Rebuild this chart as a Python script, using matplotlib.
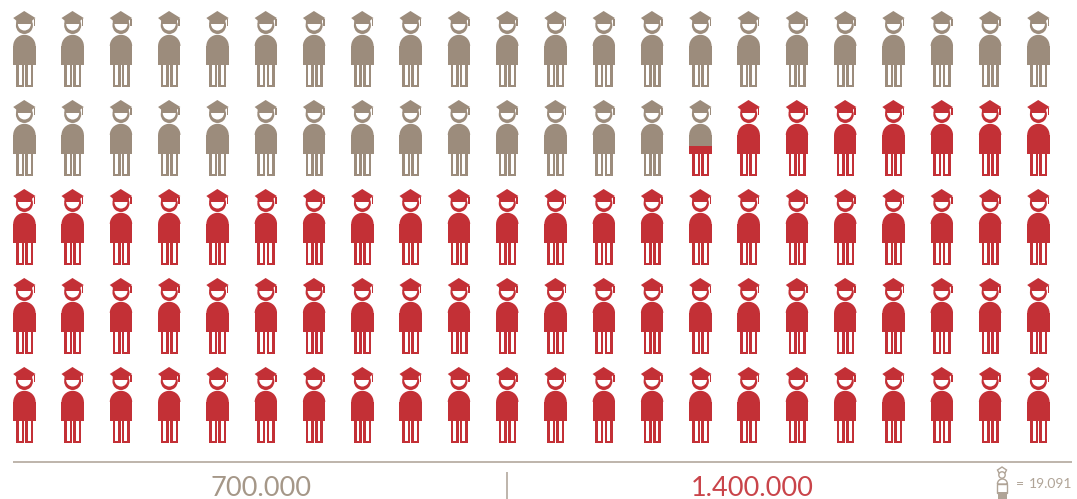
import matplotlib
matplotlib.use("Agg")
import numpy as np
import matplotlib.pyplot as plt
from matplotlib.patches import Circle, Polygon, Rectangle, Wedge
from matplotlib.transforms import Affine2D

# values
group_labels = ["700.000", "1.400.000"]
unit_label = "19.091"
n_rows = 5
n_cols = 22
# icons filled with the first colour, the last one only partly (about 0.6 of its height)
grey_icons = 36.6

GREY = "#9c8c7c"
RED = "#c33036"
LINE = "#b3a89d"
SOFT = "#b0a497"

plt.rcParams["font.family"] = ["Lato", "DejaVu Sans"]

fig = plt.figure(figsize=(10.77, 4.99), dpi=100)
ax = fig.add_axes([0, 0, 1, 1])
ax.set_xlim(0, 1077)
ax.set_ylim(499, 0)
ax.set_axis_off()


def add_parts(ax, parts, tr, clip=None):
    for p in parts:
        p.set_transform(tr)
        ax.add_patch(p)
        if clip is not None:
            p.set_clip_path(clip)
        else:
            p.set_clip_on(False)


def person(ax, x0, y0, color, clip=None):
    # shape is drawn round (0, 0) = top of the hat, 76 px tall
    tr = Affine2D().translate(x0, y0) + ax.transData
    parts = []

    # ring of the head
    parts.append(Circle((0.2, 14.5), 8.5, fc=color, ec="none"))
    parts.append(Wedge((0.2, 13), 6.5, 0, 180, fc="white", ec="none"))
    # hat
    parts.append(Polygon([(0, 0), (11.3, 7), (8, 9.5), (8, 13), (-8, 13), (-8, 9.5), (-11, 7)],
                         fc=color, ec="none"))
    parts.append(Rectangle((9.4, 8), 1.5, 6.5, fc=color, ec="none"))
    # body
    parts.append(Rectangle((-11, 35), 22.4, 19, fc=color, ec="none"))
    parts.append(Wedge((0.2, 35), 11.2, 180, 360, fc=color, ec="none"))
    # legs
    for lx in (-8.2, 1):
        parts.append(Rectangle((lx, 54), 8, 22, fc=color, ec="none"))
        parts.append(Rectangle((lx + 2.6, 54), 2.9, 19.6, fc="white", ec="none"))

    add_parts(ax, parts, tr, clip)


def legend_person(ax, x0, y0, color):
    tr = Affine2D().translate(x0, y0) + ax.transData
    parts = []
    parts.append(Polygon([(0, 0), (4.5, 3), (3, 6), (-3, 6), (-4.5, 3)], fc="white", ec=color, lw=1))
    parts.append(Circle((0, 8), 3.2, fc="white", ec=color, lw=1))
    parts.append(Rectangle((-4.6, 17), 10, 9, fc="white", ec=color, lw=1))
    parts.append(Wedge((0.4, 17), 5, 180, 360, fc="white", ec=color, lw=1))
    parts.append(Rectangle((-4.2, 25), 9, 7, fc=color, ec="none"))
    add_parts(ax, parts, tr)


# grid of icons
xs = np.linspace(24.2, 1038.2, n_cols)
ys = np.linspace(11, 367, n_rows)
icon_h = 76
count = 0
for y in ys:
    for x in xs:
        count += 1
        if count <= int(grey_icons):
            person(ax, x, y, GREY)
        elif count == int(grey_icons) + 1:
            share = grey_icons - int(grey_icons)
            cut = y + icon_h * share
            clip_top = Rectangle((x - 15, y - 2), 30, cut - y + 2, transform=ax.transData)
            clip_bot = Rectangle((x - 15, cut), 30, icon_h - (cut - y) + 2, transform=ax.transData)
            person(ax, x, y, GREY, clip=clip_top)
            person(ax, x, y, RED, clip=clip_bot)
        else:
            person(ax, x, y, RED)

# bottom strip
ax.plot([13, 1072], [461.5, 461.5], color=LINE, lw=1.2, solid_capstyle="butt")
ax.plot([507, 507], [472, 499], color=LINE, lw=1.2, solid_capstyle="butt")
ax.text(261.5, 496, group_labels[0], color="#a59788", fontsize=19.5, ha="center", va="baseline")
ax.text(752, 496, group_labels[1], color="#c9444a", fontsize=19.5, ha="center", va="baseline")

# legend icon
legend_person(ax, 1002, 467, SOFT)
ax.text(1020, 488, "=", color=SOFT, fontsize=10, ha="center", va="baseline")
ax.text(1072, 488, unit_label, color=SOFT, fontsize=10, ha="right", va="baseline")

fig.savefig("out.png", dpi=100)
